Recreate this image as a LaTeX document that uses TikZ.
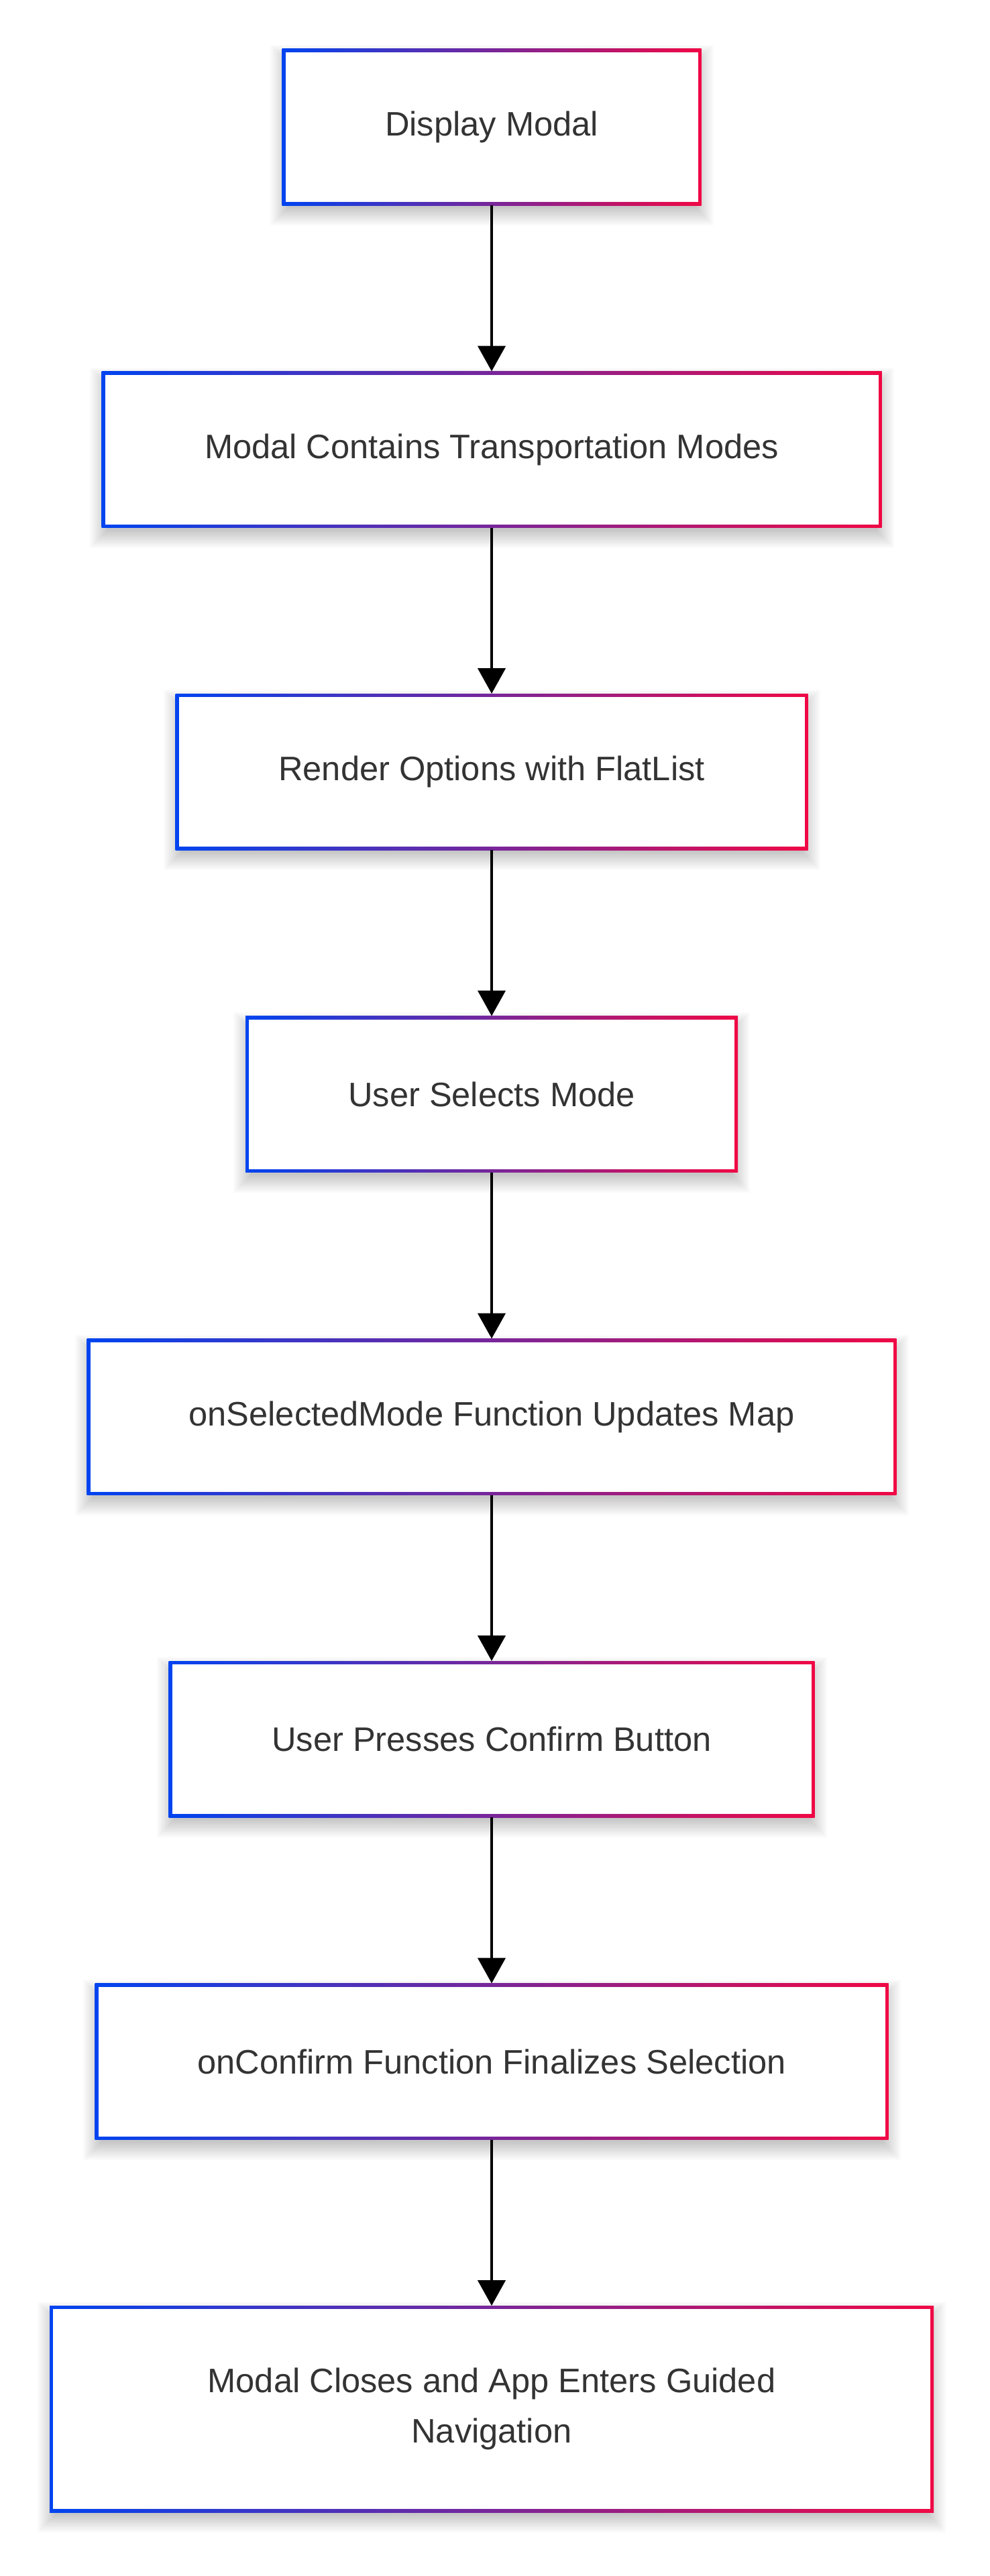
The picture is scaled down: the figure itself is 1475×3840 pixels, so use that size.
\documentclass[tikz,border=0pt]{standalone}
\usepackage{fontspec}
\setmainfont{Liberation Sans}
\usetikzlibrary{arrows.meta,backgrounds}
\definecolor{cblue}{HTML}{0044F0}
\definecolor{cred}{HTML}{F00845}
\definecolor{ctext}{HTML}{333333}
\tikzset{
  flowbox/.style={rectangle, inner sep=0pt, outer sep=0pt, fill=white, align=center,
    text=ctext, font=\fontsize{50.6}{75}\selectfont, minimum height=233pt,
    path picture={
      \shade[left color=cblue, right color=cred]
        (path picture bounding box.south west) rectangle (path picture bounding box.north east);
      \fill[white]
        ([shift={(5pt,5pt)}]path picture bounding box.south west) rectangle
        ([shift={(-5pt,-5pt)}]path picture bounding box.north east);
    }},
  flowarrow/.style={line width=4.5pt, black, -{Triangle[width=41pt,length=38pt]}},
  shadowlayer/.style={fill=black, fill opacity=0.016}
}
\begin{document}
\begin{tikzpicture}[x=1pt, y=-1pt]
\useasboundingbox (0,0) rectangle (1475,3840);
\node[flowbox, minimum width=625pt] (n1) at (733,189.5) {Display Modal};
\node[flowbox, minimum width=1163pt] (n2) at (733,670) {Modal Contains Transportation Modes};
\node[flowbox, minimum width=943pt] (n3) at (733,1150.5) {Render Options with FlatList};
\node[flowbox, minimum width=734pt] (n4) at (733,1631) {User Selects Mode};
\node[flowbox, minimum width=1207pt] (n5) at (733,2112) {onSelectedMode Function Updates Map};
\node[flowbox, minimum width=963pt] (n6) at (733,2592.5) {User Presses Confirm Button};
\node[flowbox, minimum width=1183pt] (n7) at (733,3073) {onConfirm Function Finalizes Selection};
\node[flowbox, minimum width=1318pt, minimum height=308pt] (n8) at (733,3591) {Modal Closes and App Enters Guided\\Navigation};
\begin{scope}[on background layer]
  \fill[white] (0,0) rectangle (1475,3840);
  \foreach \n in {n1,n2,n3,n4,n5,n6,n7,n8}{
    \foreach \k in {0,...,13}{
      \pgfmathsetmacro{\e}{2*\k-8}
      \fill[shadowlayer] ([shift={(-\e,-\e+12)}]\n.north west) rectangle ([shift={(\e,\e+12)}]\n.south east);
    }
  }
\end{scope}
\draw[flowarrow] (n1.south) -- (n2.north);
\draw[flowarrow] (n2.south) -- (n3.north);
\draw[flowarrow] (n3.south) -- (n4.north);
\draw[flowarrow] (n4.south) -- (n5.north);
\draw[flowarrow] (n5.south) -- (n6.north);
\draw[flowarrow] (n6.south) -- (n7.north);
\draw[flowarrow] (n7.south) -- (n8.north);
\end{tikzpicture}
\end{document}
